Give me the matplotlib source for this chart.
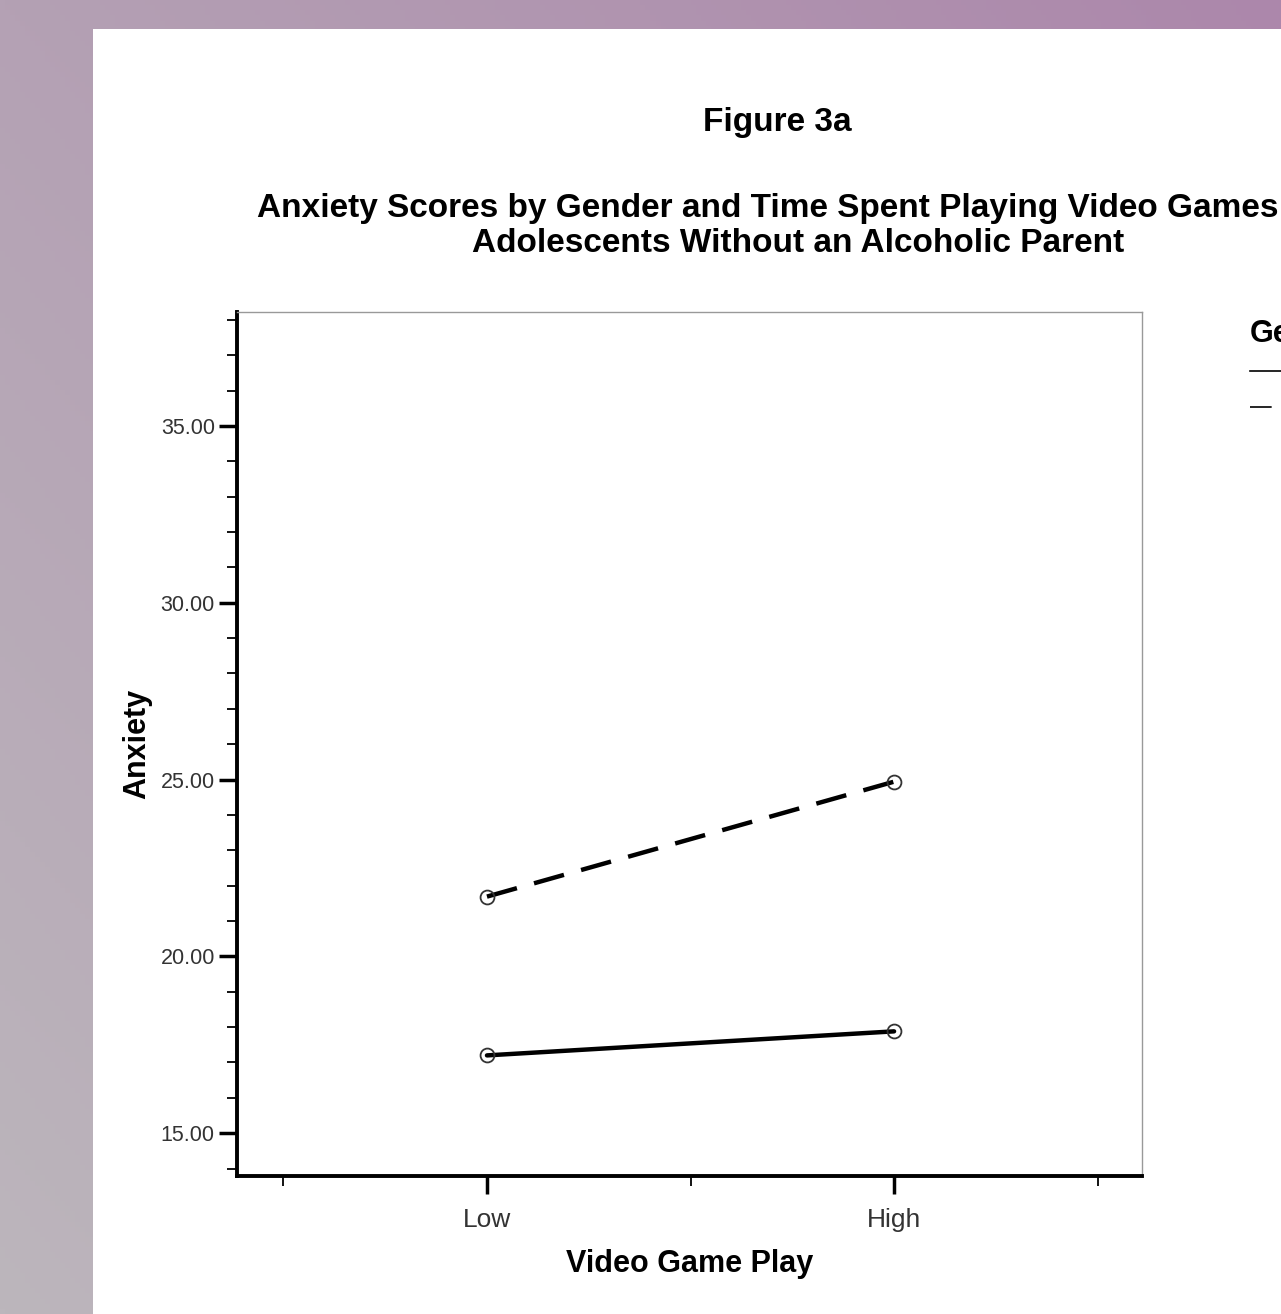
import numpy as np
import matplotlib.pyplot as plt
from matplotlib.lines import Line2D
from matplotlib.patches import Rectangle
from matplotlib.ticker import MultipleLocator, FixedLocator

plt.rcParams['font.family'] = ['Liberation Sans', 'DejaVu Sans']

# cell means, Video Game Play (Low, High)
play_levels = ['Low', 'High']
play_pos = [1, 2]
anxiety_solid = [17.20, 17.88]
anxiety_dashed = [21.69, 24.94]

W, H = 1281, 1314
fig = plt.figure(figsize=(W / 100, H / 100), dpi=100)

# slide background: soft purple gradient behind a white page
bg = fig.add_axes([0, 0, 1, 1], zorder=-10)
bg.set_axis_off()
u = np.linspace(0, 1, 256)[None, :, None]
v = np.linspace(0, 1, 256)[:, None, None]
tl = np.array([0xb4, 0xa1, 0xb4]) / 255
tr = np.array([0xac, 0x87, 0xab]) / 255
bl = np.array([0xbc, 0xb6, 0xbc]) / 255
grad = tl + (tr - tl) * u + (bl - tl) * v
bg.imshow(np.clip(grad, 0, 1), extent=[0, 1, 0, 1], origin='upper', aspect='auto')
bg.add_patch(Rectangle((93 / W, 0), 1, (H - 29) / H, transform=bg.transAxes,
                       facecolor='white', edgecolor='none'))
bg.set_xlim(0, 1)
bg.set_ylim(0, 1)

ax = fig.add_axes([237 / W, (H - 1176) / H, (1142 - 237) / W, (1176 - 312) / H])
ax.set_facecolor('white')

ax.plot(play_pos, anxiety_solid, color='black', lw=3.2, solid_capstyle='round',
        marker='o', ms=10, mfc='none', mec='#333333', mew=1.3)
ax.plot(play_pos, anxiety_dashed, color='black', lw=3.2, dashes=(7, 4),
        marker='o', ms=10, mfc='none', mec='#333333', mew=1.3)

ax.set_xlim(0.386, 2.609)
ax.set_ylim(13.79, 38.22)

ax.set_xticks(play_pos)
ax.set_xticklabels(play_levels, fontsize=19, color='#333333')
ax.xaxis.set_minor_locator(FixedLocator([0.5, 1.5, 2.5]))
ax.yaxis.set_major_locator(MultipleLocator(5))
ax.yaxis.set_minor_locator(MultipleLocator(1))
ax.set_yticks([15, 20, 25, 30, 35])
ax.set_yticklabels(['15.00', '20.00', '25.00', '30.00', '35.00'], fontsize=15.5, color='#333333')

ax.tick_params(axis='both', which='major', direction='out', length=13, width=2.5, pad=3)
ax.tick_params(axis='x', which='major', pad=10)
ax.tick_params(axis='both', which='minor', direction='out', length=7, width=1.3)

for side in ['left', 'bottom']:
    ax.spines[side].set_linewidth(2.8)
for side in ['top', 'right']:
    ax.spines[side].set_linewidth(1.0)
    ax.spines[side].set_color('#999999')

ax.set_xlabel('Video Game Play', fontsize=22, fontweight='bold', labelpad=12)
ax.set_ylabel('Anxiety', fontsize=22, fontweight='bold', labelpad=6)

fig.text(777 / W, 1 - 123 / H, 'Figure 3a', fontsize=24, fontweight='bold',
         ha='center', va='center')
fig.text(257 / W, 1 - 208 / H, 'Anxiety Scores by Gender and Time Spent Playing Video Games',
         fontsize=24, fontweight='bold', ha='left', va='center')
fig.text(798 / W, 1 - 243 / H, 'Adolescents Without an Alcoholic Parent',
         fontsize=24, fontweight='bold', ha='center', va='center')

# legend block, runs off the right edge of the page
fig.text(1250 / W, 1 - 334 / H, 'Gender', fontsize=22, fontweight='bold',
         ha='left', va='center')
fig.add_artist(Line2D([1250 / W, 1320 / W], [1 - 371 / H, 1 - 371 / H],
                      transform=fig.transFigure, color='black', lw=1.2))
fig.add_artist(Line2D([1250 / W, 1320 / W], [1 - 407 / H, 1 - 407 / H],
                      transform=fig.transFigure, color='black', lw=1.2, dashes=(13, 9)))

fig.savefig('out.png', dpi=100)
